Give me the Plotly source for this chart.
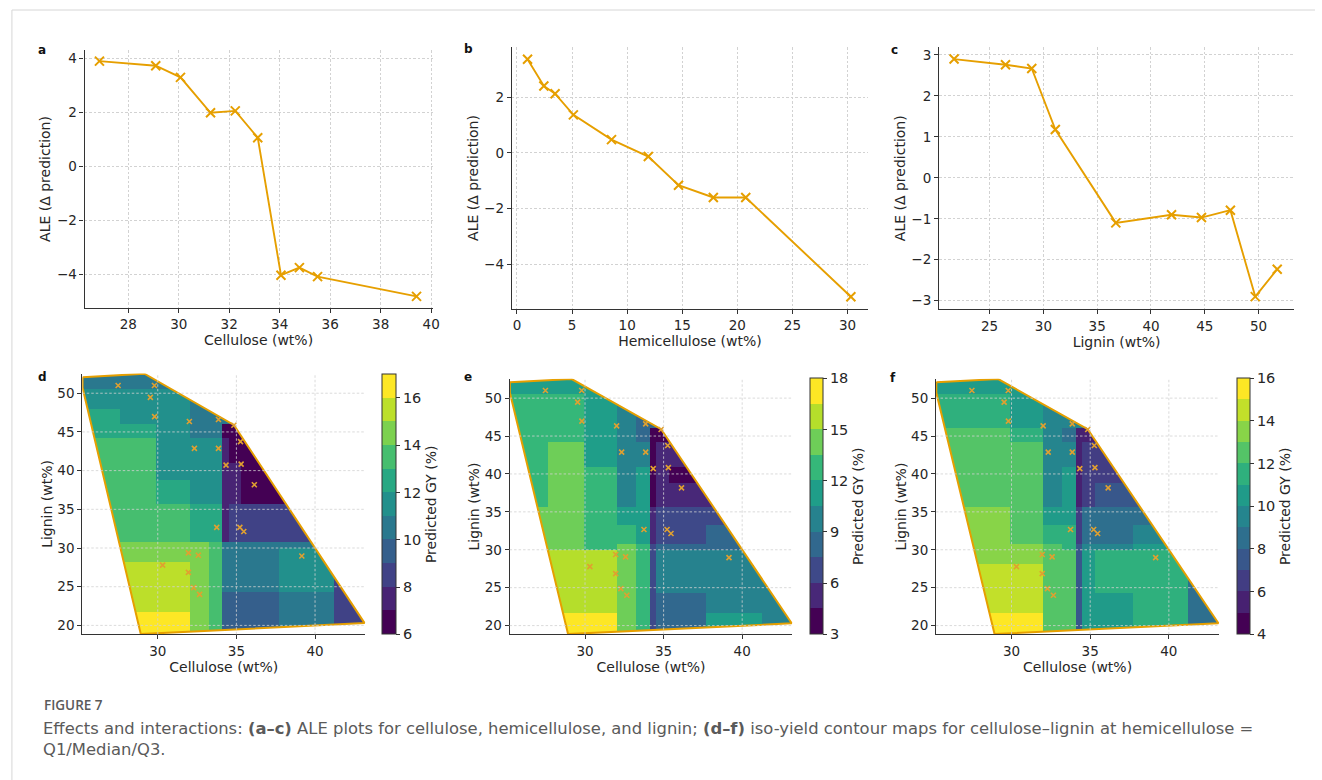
import numpy as np
import plotly.graph_objects as go
from plotly.colors import sample_colorscale

W, H = 1322, 780

# ---------------- ALE data (panels a-c) ----------------
CELL_X = [26.86, 29.09, 30.07, 31.26, 32.24, 33.13, 34.05, 34.78, 35.50, 39.42]
CELL_ALE = [3.89, 3.72, 3.29, 1.98, 2.05, 1.06, -4.02, -3.74, -4.07, -4.80]
HEMI_X = [0.96, 2.44, 3.46, 5.12, 8.58, 11.92, 14.66, 17.82, 20.76, 30.30]
HEMI_ALE = [3.37, 2.41, 2.13, 1.37, 0.48, -0.13, -1.16, -1.60, -1.60, -5.17]
LIG_X = [21.70, 26.48, 28.92, 31.11, 36.73, 41.91, 44.69, 47.38, 49.69, 51.73]
LIG_ALE = [2.90, 2.76, 2.67, 1.18, -1.10, -0.90, -0.97, -0.79, -2.90, -2.23]

# ---------------- sample points (panels d-f) ----------------
PTS_CELL = [27.48, 29.79, 29.53, 29.80, 32.01, 33.86, 34.84, 32.33, 33.86, 35.26, 34.34, 35.30,
            36.14, 33.75, 35.22, 35.47, 31.95, 32.58, 39.16, 30.31, 31.95, 32.28, 32.66]
PTS_LIG = [51.0, 51.0, 49.47, 46.97, 46.35, 46.6, 45.86, 42.88, 42.88, 43.75, 40.71, 40.84,
           38.17, 32.67, 32.67, 32.14, 29.37, 29.06, 28.97, 27.78, 26.86, 24.88, 24.0]

# convex hull of data domain
HULL_CELL = [25.22, 29.15, 34.84, 43.15, 28.92, 25.22, 25.22]
HULL_LIG = [52.08, 52.52, 45.9, 20.3, 18.88, 50.7, 52.08]

# piecewise prediction surfaces: cellulose edges, lignin edges, values (rows = lignin bins bottom->top)
X_EDGES = [25.2, 27.6, 29.9, 32.0, 33.2, 34.1, 34.5, 35.3, 37.7, 41.2, 43.2]
Y_EDGES = [18.85, 21.7, 24.3, 28.2, 29.9, 30.8, 33.2, 35.6, 38.8, 41.0, 44.2, 46.0, 48.0, 50.6, 52.55]

GY_Q1 = [
    [16.5, 16.5, 16.5, 14.5, 13.5, 9.5, 9.5, 9.5, 10.5, 8.5],
    [15.5, 15.5, 15.5, 14.5, 13.5, 9.5, 9.5, 9.5, 10.5, 8.5],
    [15.5, 15.5, 15.5, 14.5, 13.5, 10.5, 10.5, 10.5, 11.5, 8.5],
    [14.5, 14.5, 14.5, 14.5, 13.5, 10.5, 10.5, 10.5, 11.5, 10.5],
    [14.5, 14.5, 14.5, 14.5, 13.5, 10.5, 10.5, 10.5, 10.5, 10.5],
    [13.5, 13.5, 13.5, 12.5, 12.5, 7.5, 8.5, 8.5, 8.5, 8.5],
    [13.5, 13.5, 13.5, 12.5, 12.5, 7.5, 8.5, 8.5, 8.5, 8.5],
    [13.5, 13.5, 12.5, 11.5, 11.5, 7.5, 7.5, 6.5, 6.5, 6.5],
    [13.5, 13.5, 11.5, 11.5, 11.5, 7.5, 7.5, 6.5, 6.5, 6.5],
    [13.5, 13.5, 11.5, 11.5, 11.5, 7.5, 6.5, 6.5, 6.5, 6.5],
    [12.5, 12.5, 11.5, 10.5, 10.5, 6.5, 6.5, 6.5, 6.5, 6.5],
    [12.5, 11.5, 11.5, 10.5, 10.5, 10.5, 10.5, 10.5, 10.5, 10.5],
    [11.5, 11.5, 11.5, 10.5, 10.5, 10.5, 10.5, 10.5, 10.5, 10.5],
    [10.5, 10.5, 10.5, 10.5, 10.5, 10.5, 10.5, 10.5, 10.5, 10.5],
]
GY_MED = [
    [17.25, 17.25, 17.25, 14.25, 12.75, 6.75, 8.25, 8.25, 11.25, 9.75],
    [15.75, 15.75, 15.75, 14.25, 12.75, 6.75, 8.25, 8.25, 9.75, 9.75],
    [15.75, 15.75, 15.75, 14.25, 12.75, 6.75, 9.75, 9.75, 9.75, 9.75],
    [15.75, 15.75, 15.75, 14.25, 12.75, 6.75, 9.75, 9.75, 9.75, 9.75],
    [14.25, 14.25, 12.75, 14.25, 12.75, 6.75, 8.25, 8.25, 8.25, 8.25],
    [14.25, 14.25, 12.75, 12.75, 11.25, 5.25, 6.75, 6.75, 8.25, 8.25],
    [14.25, 14.25, 12.75, 11.25, 11.25, 5.25, 6.75, 6.75, 6.75, 6.75],
    [12.75, 14.25, 12.75, 9.75, 11.25, 3.75, 5.25, 5.25, 5.25, 5.25],
    [12.75, 14.25, 12.75, 9.75, 11.25, 3.75, 5.25, 3.75, 5.25, 5.25],
    [12.75, 14.25, 11.25, 9.75, 9.75, 3.75, 5.25, 5.25, 5.25, 5.25],
    [12.75, 12.75, 11.25, 9.75, 8.25, 3.75, 3.75, 5.25, 5.25, 5.25],
    [12.75, 12.75, 11.25, 9.75, 8.25, 8.25, 8.25, 8.25, 8.25, 8.25],
    [12.75, 12.75, 11.25, 9.75, 9.75, 9.75, 9.75, 9.75, 9.75, 9.75],
    [11.25, 11.25, 11.25, 9.75, 9.75, 9.75, 9.75, 9.75, 9.75, 9.75],
]
GY_Q3 = [
    [15.5, 15.5, 15.5, 12.5, 12.5, 7.5, 10.5, 10.5, 11.5, 8.5],
    [14.5, 14.5, 14.5, 12.5, 12.5, 7.5, 10.5, 10.5, 11.5, 8.5],
    [14.5, 14.5, 14.5, 12.5, 12.5, 7.5, 10.5, 11.5, 11.5, 8.5],
    [13.5, 13.5, 13.5, 12.5, 12.5, 7.5, 10.5, 11.5, 11.5, 10.5],
    [13.5, 13.5, 13.5, 12.5, 11.5, 7.5, 9.5, 9.5, 10.5, 10.5],
    [13.5, 13.5, 12.5, 11.5, 11.5, 6.5, 8.5, 8.5, 9.5, 9.5],
    [13.5, 13.5, 12.5, 10.5, 10.5, 6.5, 8.5, 8.5, 8.5, 8.5],
    [12.5, 12.5, 12.5, 9.5, 10.5, 5.5, 6.5, 7.5, 7.5, 7.5],
    [12.5, 12.5, 12.5, 9.5, 10.5, 5.5, 6.5, 6.5, 6.5, 6.5],
    [12.5, 12.5, 12.5, 9.5, 9.5, 5.5, 6.5, 6.5, 6.5, 6.5],
    [12.5, 12.5, 11.5, 9.5, 8.5, 5.5, 5.5, 6.5, 6.5, 6.5],
    [11.5, 11.5, 10.5, 9.5, 9.5, 9.5, 9.5, 9.5, 9.5, 9.5],
    [11.5, 11.5, 10.5, 9.5, 9.5, 9.5, 9.5, 9.5, 9.5, 9.5],
    [10.5, 10.5, 10.5, 9.5, 9.5, 9.5, 9.5, 9.5, 9.5, 9.5],
]
# colour-bar levels per map: (min, max, number of bands, tick values)
CB_Q1 = (6, 17, 11, [6, 8, 10, 12, 14, 16])
CB_MED = (3, 18, 10, [3, 6, 9, 12, 15, 18])
CB_Q3 = (4, 16, 12, [4, 6, 8, 10, 12, 14, 16])

ORANGE = "#E69F00"
FONT = "DejaVu Sans"
TXT = "#262626"
GRIDC = "#d2d2d2"
GRIDDASH = "2.5px,2px"


def px_x(p):
    return p / W


def px_y(p):
    return 1 - p / H


def discrete(nb):
    cols = sample_colorscale("Viridis", [i / (nb - 1) for i in range(nb)])
    cs = []
    for i, c in enumerate(cols):
        cs.append([i / nb, c])
        cs.append([(i + 1) / nb, c])
    return cs


def inside(px, py, vx, vy):
    res = np.zeros(px.shape, bool)
    n = len(vx)
    j = n - 1
    for i in range(n):
        xi, yi, xj, yj = vx[i], vy[i], vx[j], vy[j]
        if yi != yj:
            cond = ((yi > py) != (yj > py)) & (px < (xj - xi) * (py - yi) / (yj - yi) + xi)
            res ^= cond
        j = i
    return res


xf = np.arange(25.2, 43.2001, 0.04)
yf = np.arange(18.85, 52.5501, 0.08)
XX, YY = np.meshgrid(xf, yf)
mask = inside(XX, YY, np.array(HULL_CELL), np.array(HULL_LIG))
ix = np.clip(np.searchsorted(X_EDGES, xf, side="right") - 1, 0, len(X_EDGES) - 2)
iy = np.clip(np.searchsorted(Y_EDGES, yf, side="right") - 1, 0, len(Y_EDGES) - 2)


def surface(vals):
    v = np.array(vals, float)
    z = v[np.ix_(iy, ix)]
    z[~mask] = np.nan
    return z


fig = go.Figure()

axis_base = dict(showline=True, linecolor="#333333", linewidth=1.1, ticks="outside", ticklen=4,
                 tickwidth=1, tickcolor="#333333", tickfont=dict(family=FONT, size=13.5, color=TXT),
                 zeroline=False, mirror=False, showgrid=True, gridcolor=GRIDC, griddash=GRIDDASH,
                 gridwidth=0.8)

# ---- top row
top = [
    (CELL_X, CELL_ALE, [85, 435], [50, 308], [26.27, 40.06], [-5.23, 4.30], list(range(28, 41, 2)), [-4, -2, 0, 2, 4], "Cellulose (wt%)"),
    (HEMI_X, HEMI_ALE, [514.5, 872.8], [47, 309], [-0.47, 31.87], [-5.61, 3.81], list(range(0, 31, 5)), [-4, -2, 0, 2], "Hemicellulose (wt%)"),
    (LIG_X, LIG_ALE, [944, 1301], [47.2, 309.3], [20.3, 53.3], [-3.21, 3.19], list(range(25, 51, 5)), [-3, -2, -1, 0, 1, 2, 3], "Lignin (wt%)"),
]
layout = {}
for k, (xs, ys, dx, dy, rx, ry, tx, ty, lab) in enumerate(top, start=1):
    fig.add_trace(go.Scatter(x=xs, y=ys, mode="lines+markers", xaxis=f"x{k}", yaxis=f"y{k}",
                             line=dict(color=ORANGE, width=1.9),
                             marker=dict(symbol="x-thin", size=9, line=dict(color=ORANGE, width=2)),
                             showlegend=False, hoverinfo="skip"))
    layout[f"xaxis{k}"] = dict(axis_base, domain=[px_x(dx[0]), px_x(dx[1])], range=rx, tickvals=tx,
                               anchor=f"y{k}",
                               title=dict(text=lab, font=dict(family=FONT, size=14, color=TXT), standoff=0))
    layout[f"yaxis{k}"] = dict(axis_base, domain=[px_y(dy[1]), px_y(dy[0])], range=ry, tickvals=ty,
                               anchor=f"x{k}",
                               title=dict(text="ALE (Δ prediction)", font=dict(family=FONT, size=14, color=TXT), standoff=2))

# ---- bottom row
bottom = [
    (GY_Q1, CB_Q1, [82.7, 367.3], [373.5, 634.3], [384, 398.3], 374),
    (GY_MED, CB_MED, [512.3, 796.7], [378.8, 634.3], [814.3, 827.3], 378.5),
    (GY_Q3, CB_Q3, [941, 1225.7], [378.8, 634.3], [1243.3, 1256.7], 378.5),
]
XTB = [30, 35, 40]
YTB = [20, 25, 30, 35, 40, 45, 50]
shapes = []
for k, (vals, cb, dx, dy, cbx, cbtop) in enumerate(bottom, start=4):
    zmin, zmax, nb, tv = cb
    fig.add_trace(go.Heatmap(x=xf, y=yf, z=surface(vals), xaxis=f"x{k}", yaxis=f"y{k}",
                             zmin=zmin, zmax=zmax, colorscale=discrete(nb), zsmooth=False,
                             hoverinfo="skip",
                             colorbar=dict(x=px_x(cbx[0]), xanchor="left", xpad=0, ypad=0,
                                           y=px_y(634.3), yanchor="bottom", lenmode="fraction",
                                           len=(634.3 - cbtop) / H, thicknessmode="pixels",
                                           thickness=cbx[1] - cbx[0], outlinewidth=1,
                                           outlinecolor="#333333", tickvals=tv, ticks="outside",
                                           ticklen=4, tickcolor="#333333",
                                           tickfont=dict(family=FONT, size=14.5, color=TXT),
                                           title=dict(text="Predicted GY (%)", side="right",
                                                      font=dict(family=FONT, size=14, color=TXT)))))
    fig.add_trace(go.Scatter(x=HULL_CELL, y=HULL_LIG, mode="lines", xaxis=f"x{k}", yaxis=f"y{k}",
                             line=dict(color=ORANGE, width=2), showlegend=False, hoverinfo="skip"))
    fig.add_trace(go.Scatter(x=PTS_CELL, y=PTS_LIG, mode="markers", xaxis=f"x{k}", yaxis=f"y{k}",
                             marker=dict(symbol="x-thin", size=5, line=dict(color="#E0A030", width=1.6)),
                             showlegend=False, hoverinfo="skip"))
    layout[f"xaxis{k}"] = dict(axis_base, showgrid=False, domain=[px_x(dx[0]), px_x(dx[1])],
                               range=[25.2, 43.2], tickvals=XTB, anchor=f"y{k}",
                               title=dict(text="Cellulose (wt%)", font=dict(family=FONT, size=14, color=TXT), standoff=1))
    layout[f"yaxis{k}"] = dict(axis_base, showgrid=False, domain=[px_y(dy[1]), px_y(dy[0])],
                               range=[18.85, 52.55], tickvals=YTB, anchor=f"x{k}",
                               title=dict(text="Lignin (wt%)", font=dict(family=FONT, size=14, color=TXT), standoff=1))
    for t in XTB:
        shapes.append(dict(type="line", xref=f"x{k}", yref=f"y{k} domain", x0=t, x1=t, y0=0, y1=1,
                           line=dict(color=GRIDC, width=0.8, dash=GRIDDASH), layer="above"))
    for t in YTB:
        shapes.append(dict(type="line", xref=f"x{k} domain", yref=f"y{k}", x0=0, x1=1, y0=t, y1=t,
                           line=dict(color=GRIDC, width=0.8, dash=GRIDDASH), layer="above"))

# page frame
shapes.append(dict(type="line", xref="paper", yref="paper", x0=px_x(12), x1=1, y0=px_y(10), y1=px_y(10),
                   line=dict(color="#d6d6d6", width=1)))
shapes.append(dict(type="line", xref="paper", yref="paper", x0=px_x(12), x1=px_x(12), y0=px_y(10), y1=0,
                   line=dict(color="#d6d6d6", width=1)))

annotations = []
for lab, x, y in [("a", 42, 50), ("b", 471, 49), ("c", 899, 50), ("d", 43, 377), ("e", 470, 377), ("f", 898, 378)]:
    annotations.append(dict(text=f"<b>{lab}</b>", x=px_x(x), y=px_y(y), xref="paper", yref="paper",
                            showarrow=False, xanchor="center", yanchor="middle",
                            font=dict(family=FONT, size=12, color="#111111")))
annotations.append(dict(text="FIGURE 7", x=px_x(42), y=px_y(705), xref="paper", yref="paper",
                        showarrow=False, xanchor="left", yanchor="middle",
                        font=dict(family="Open Sans", size=13.5, color="#5a5a5a", weight=600)))
annotations.append(dict(text="Effects and interactions: <b>(a–c)</b> ALE plots for cellulose, hemicellulose, and lignin; "
                             "<b>(d–f)</b> iso-yield contour maps for cellulose–lignin at hemicellulose =<br>Q1/Median/Q3.",
                        x=px_x(41), y=px_y(717), xref="paper", yref="paper", showarrow=False,
                        xanchor="left", yanchor="top", align="left",
                        font=dict(family=FONT, size=16.4, color="#5a5a5a")))

fig.update_layout(width=W, height=H, margin=dict(l=0, r=0, t=0, b=0), paper_bgcolor="white",
                  plot_bgcolor="white", showlegend=False, shapes=shapes, annotations=annotations,
                  font=dict(family=FONT, color=TXT), **layout)

fig.write_html("out.html")
